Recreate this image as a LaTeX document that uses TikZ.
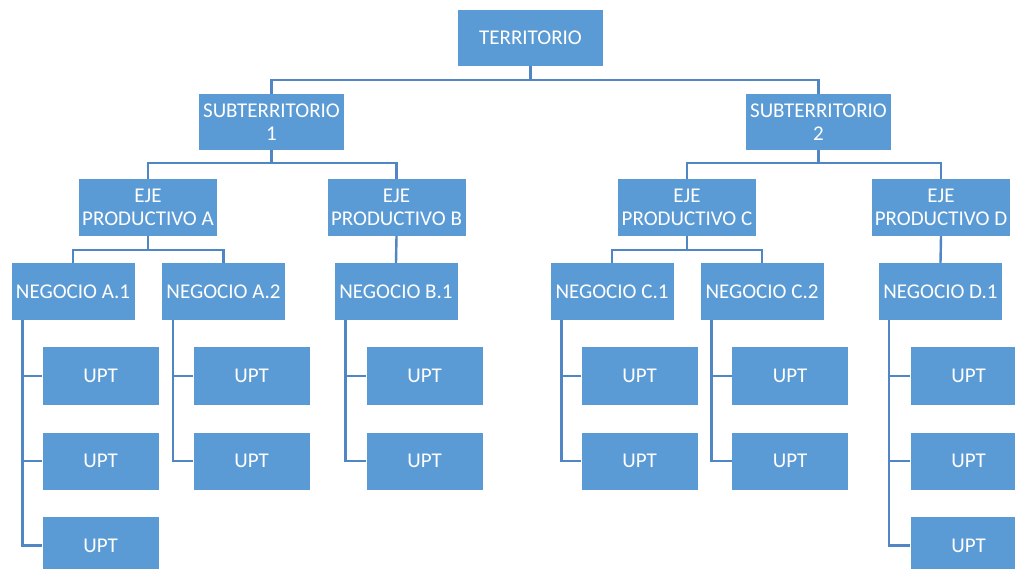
\documentclass[tikz,border=0pt]{standalone}
\usepackage{fontspec}
\setmainfont{Carlito}
\usetikzlibrary{calc}
\definecolor{boxblue}{HTML}{5B9BD5}
\definecolor{lineblue}{HTML}{4F86C3}
\tikzset{
  orgbox/.style={fill=boxblue, draw=none, text=white, align=center, inner sep=0pt,
    font=\fontsize{21}{23.5}\selectfont},
  topbox/.style={orgbox, minimum width=145pt, minimum height=56pt},
  ejebox/.style={orgbox, minimum width=138pt, minimum height=57pt},
  negbox/.style={orgbox, minimum width=123pt, minimum height=57pt},
  uptbox/.style={orgbox, minimum width=116pt, minimum height=57pt},
  conn/.style={draw=lineblue, line width=2.4pt}
}
\begin{document}
\begin{tikzpicture}[x=1pt,y=-1pt]
\clip (0,0) rectangle (1015,569);
\fill[white] (0,0) rectangle (1015,569);
% boxes
\node[topbox] (terr) at (530.5,38) {TERRITORIO};
\node[topbox] (sub1) at (271.5,122) {SUBTERRITORIO\\1};
\node[topbox] (sub2) at (818.5,122) {SUBTERRITORIO\\2};
\node[ejebox] (ejeA) at (148,207.5) {EJE\\PRODUCTIVO A};
\node[ejebox] (ejeB) at (396.5,207.5) {EJE\\PRODUCTIVO B};
\node[ejebox] (ejeC) at (687,207.5) {EJE\\PRODUCTIVO C};
\node[ejebox] (ejeD) at (941,207.5) {EJE\\PRODUCTIVO D};
\node[negbox] (negA1) at (73,291.5) {NEGOCIO A.1};
\node[negbox] (negA2) at (223.5,291.5) {NEGOCIO A.2};
\node[negbox] (negB1) at (396,291.5) {NEGOCIO B.1};
\node[negbox] (negC1) at (612,291.5) {NEGOCIO C.1};
\node[negbox] (negC2) at (762,291.5) {NEGOCIO C.2};
\node[negbox] (negD1) at (940.5,291.5) {NEGOCIO D.1};
\node[uptbox] (uA11) at (100.5,376) {UPT};
\node[uptbox] (uA12) at (100.5,461) {UPT};
\node[uptbox] (uA13) at (100.5,545.5) {UPT};
\node[uptbox] (uA21) at (251.5,376) {UPT};
\node[uptbox] (uA22) at (251.5,461) {UPT};
\node[uptbox] (uB11) at (424.5,376) {UPT};
\node[uptbox] (uB12) at (424.5,461) {UPT};
\node[uptbox] (uC11) at (639.5,376) {UPT};
\node[uptbox] (uC12) at (639.5,461) {UPT};
\node[uptbox] (uC21) at (790,376) {UPT};
\node[uptbox] (uC22) at (790,461) {UPT};
\node[uptbox] (uD11) at (968.5,376) {UPT};
\node[uptbox] (uD12) at (968.5,461) {UPT};
\node[uptbox] (uD13) at (968.5,545.5) {UPT};
% junctions
\coordinate (j0) at (terr.south |- 0,80);
\coordinate (j1) at (sub1.south |- 0,163);
\coordinate (j2) at (sub2.south |- 0,163);
\coordinate (jA) at (ejeA.south |- 0,250);
\coordinate (jC) at (ejeC.south |- 0,250);
% tree connectors
\draw[conn] (terr.south) -- (j0);
\draw[conn] (sub1.north) |- (j0) -| (sub2.north);
\draw[conn] (sub1.south) -- (j1);
\draw[conn] (ejeA.north) |- (j1) -| (ejeB.north);
\draw[conn] (sub2.south) -- (j2);
\draw[conn] (ejeC.north) |- (j2) -| (ejeD.north);
\draw[conn] (ejeA.south) -- (jA);
\draw[conn] (negA1.north) |- (jA) -| (negA2.north);
\draw[conn] (ejeB.south) -- (negB1.north);
\draw[conn] (ejeC.south) -- (jC);
\draw[conn] (negC1.north) |- (jC) -| (negC2.north);
\draw[conn] (ejeD.south) -- (negD1.north);
% UPT spines
\coordinate (vA1) at ($(negA1.south west)+(11,0)$);
\coordinate (vA2) at ($(negA2.south west)+(11,0)$);
\coordinate (vB1) at ($(negB1.south west)+(11,0)$);
\coordinate (vC1) at ($(negC1.south west)+(11,0)$);
\coordinate (vC2) at ($(negC2.south west)+(11,0)$);
\coordinate (vD1) at ($(negD1.south west)+(10,0)$);
\draw[conn] (vA1) |- (uA13.west);
\draw[conn] (uA11.west) -- (uA11.west -| vA1);
\draw[conn] (uA12.west) -- (uA12.west -| vA1);
\draw[conn] (vA2) |- (uA22.west);
\draw[conn] (uA21.west) -- (uA21.west -| vA2);
\draw[conn] (vB1) |- (uB12.west);
\draw[conn] (uB11.west) -- (uB11.west -| vB1);
\draw[conn] (vC1) |- (uC12.west);
\draw[conn] (uC11.west) -- (uC11.west -| vC1);
\draw[conn] (vC2) |- (uC22.west);
\draw[conn] (uC21.west) -- (uC21.west -| vC2);
\draw[conn] (vD1) |- (uD13.west);
\draw[conn] (uD11.west) -- (uD11.west -| vD1);
\draw[conn] (uD12.west) -- (uD12.west -| vD1);
\end{tikzpicture}
\end{document}
